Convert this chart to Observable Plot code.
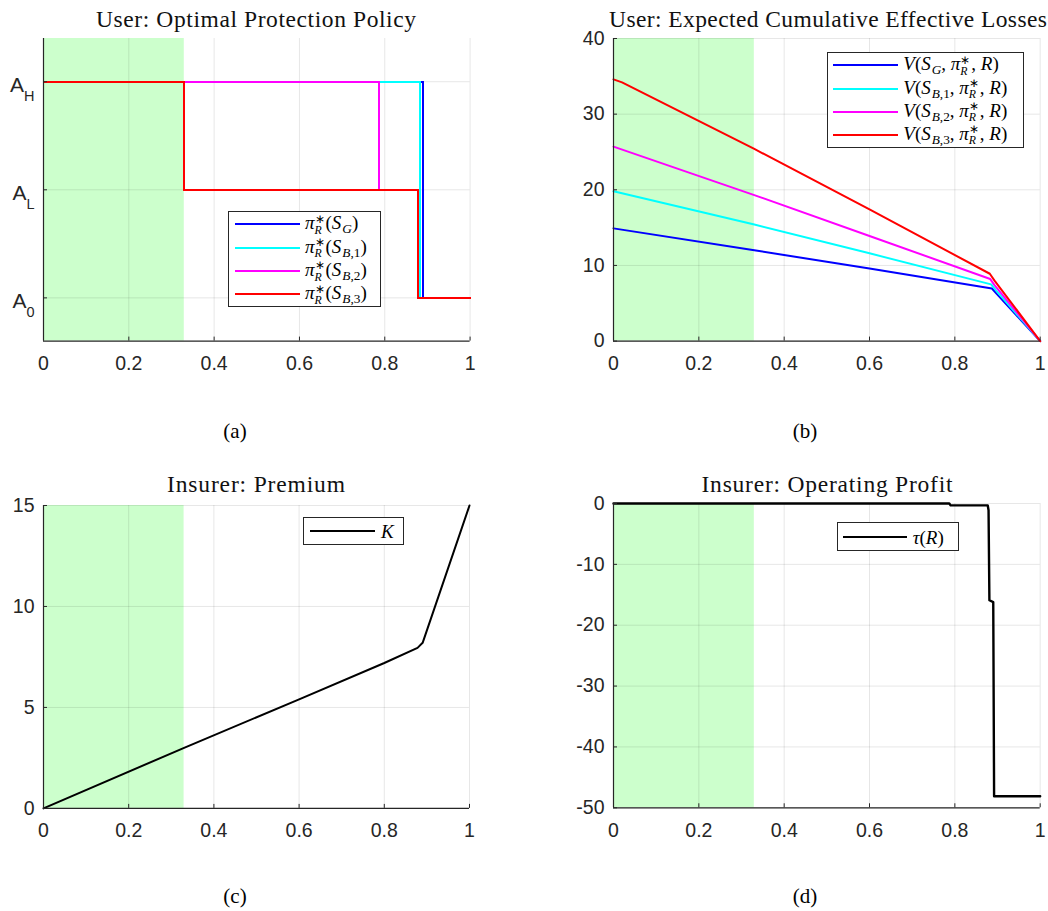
<!DOCTYPE html>
<html>
<head>
<meta charset="utf-8">
<script src="https://cdn.jsdelivr.net/npm/d3@7"></script>
<script src="https://cdn.jsdelivr.net/npm/@observablehq/plot@0.6"></script>
<style>
  html,body{margin:0;padding:0;background:#fff;}
  #root{position:relative;width:1048px;height:911px;overflow:hidden;background:#fff;}
  .panel{position:absolute;}
  .panel svg{display:block;overflow:visible;}
  #overlay{position:absolute;left:0;top:0;pointer-events:none;}
  .legend{position:absolute;box-sizing:border-box;border:1px solid #262626;background:#fff;}
  .legend .sw{position:absolute;height:2px;margin-top:-1px;}
  .legend .lt{position:absolute;transform:translateY(-50%);font-family:"Liberation Serif","Times New Roman",serif;font-size:19px;line-height:1;white-space:nowrap;color:#000;}
  .ss{display:inline-block;vertical-align:-0.4em;font-size:0.62em;line-height:0.95;margin-right:1px;}
  .ss span{display:block;}
  .sb{font-size:0.7em;vertical-align:-0.3em;line-height:0;margin-left:1px;}
</style>
</head>
<body>
<div id="root"></div>
<script>
// ---------------- DATA ----------------
const xTicks = [0, 0.2, 0.4, 0.6, 0.8, 1];
const safeRegion = [0, 0.33];           // green shaded region of R

// (a) optimal protection policy: breakpoints (step-after), levels 0=A0, 1=AL, 2=AH
const policyLevelTicks = [0, 1, 2];
const policyLevelSubs = ["0", "L", "H"];
const policySG_R  = [0, 0.889, 1];
const policySG_A  = [2, 0, 0];
const policySB1_R = [0, 0.882, 1];
const policySB1_A = [2, 0, 0];
const policySB2_R = [0, 0.787, 0.877, 1];
const policySB2_A = [2, 1, 0, 0];
const policySB3_R = [0, 0.33, 0.877, 1];
const policySB3_A = [2, 1, 0, 0];

// (b) expected cumulative effective losses
const lossTicks = [0, 10, 20, 30, 40];
const lossSG_R  = [0, 0.33, 0.6, 0.887, 0.897, 1];
const lossSG_V  = [14.9, 12.0, 9.6, 6.95, 6.3, 0];
const lossSB1_R = [0, 0.33, 0.6, 0.885, 0.895, 1];
const lossSB1_V = [19.8, 15.4, 11.6, 7.5, 6.8, 0];
const lossSB2_R = [0, 0.33, 0.6, 0.883, 0.893, 1];
const lossSB2_V = [25.7, 19.3, 13.9, 8.2, 7.4, 0];
const lossSB3_R = [0, 0.02, 0.33, 0.6, 0.882, 0.893, 1];
const lossSB3_V = [34.6, 34.2, 25.4, 17.4, 8.9, 8.0, 0];

// (c) insurer premium K
const premiumTicks = [0, 5, 10, 15];
const premiumR = [0, 0.33, 0.6, 0.8, 0.878, 0.89, 1];
const premiumK = [0, 3.0, 5.4, 7.2, 7.95, 8.2, 15];

// (d) insurer operating profit tau(R)
const profitTicks = [-50, -40, -30, -20, -10, 0];
const profitR = [0, 0.787, 0.79, 0.877, 0.879, 0.881, 0.89, 0.892, 1];
const profitT = [0, 0, -0.3, -0.3, -1.1, -15.9, -16.2, -48.1, -48.1];

const seriesColors = ["#0000ff", "#00ffff", "#ff00ff", "#ff0000"];

// ---------------- HELPERS ----------------
const zip = (xs, ys) => xs.map((x, i) => ({r: x, v: ys[i]}));
const xFmt = d => String(+(+d).toFixed(1));
const M = {left: 60, right: 8, top: 8, bottom: 40};
const root = document.getElementById("root");

function panel({frame, yDomain, yTicks, yFormat, lines, curve, crisp}) {
  const [fx, fy, fw, fh] = frame;
  const marks = [
    Plot.rect([safeRegion], {x1: d => d[0], x2: d => d[1], fill: "#ccffcc"}),
    Plot.gridX(xTicks, {stroke: "#000", strokeOpacity: 0.1}),
    Plot.gridY(yTicks, {stroke: "#000", strokeOpacity: 0.1}),
    ...lines.map(l => Plot.line(l.data, {
      x: "r", y: "v", stroke: l.color, strokeWidth: l.width || 2,
      curve: curve || "linear",
      shapeRendering: crisp ? "crispEdges" : undefined
    })),
    Plot.ruleX([0], {stroke: "#262626", strokeWidth: 1.2}),
    Plot.ruleY([yDomain[0]], {stroke: "#262626", strokeWidth: 1.2}),
    Plot.axisX(xTicks, {tickSize: 0, tickPadding: 15, tickFormat: xFmt, label: null}),
    Plot.axisX(xTicks, {tickSize: -4, tickFormat: () => "", label: null, stroke: "#262626"}),
    Plot.axisY(yTicks, {tickSize: 0, tickPadding: 9, tickFormat: yFormat, label: null}),
    Plot.axisY(yTicks, {tickSize: -4, tickFormat: () => "", label: null, stroke: "#262626"})
  ];
  const svg = Plot.plot({
    width: fw + M.left + M.right,
    height: fh + M.top + M.bottom,
    marginLeft: M.left, marginRight: M.right, marginTop: M.top, marginBottom: M.bottom,
    x: {domain: [0, 1]},
    y: {domain: yDomain},
    style: {fontFamily: '"Liberation Sans", Arial, sans-serif', fontSize: "19.5px", color: "#262626", background: "transparent", overflow: "visible"},
    marks
  });
  const div = document.createElement("div");
  div.className = "panel";
  div.style.left = (fx - M.left) + "px";
  div.style.top = (fy - M.top) + "px";
  div.appendChild(svg);
  root.appendChild(div);
  return svg;
}

// (a)
const svgA = panel({
  frame: [42.7, 37.7, 426.6, 302.6],
  yDomain: [-0.4, 2.4],
  yTicks: policyLevelTicks,
  yFormat: d => "A" + policyLevelSubs[d],
  curve: "step-after",
  crisp: true,
  lines: [
    {data: zip(policySG_R, policySG_A), color: seriesColors[0]},
    {data: zip(policySB1_R, policySB1_A), color: seriesColors[1]},
    {data: zip(policySB2_R, policySB2_A), color: seriesColors[2]},
    {data: zip(policySB3_R, policySB3_A), color: seriesColors[3]}
  ]
});
// subscripts on A tick labels
svgA.querySelectorAll('g[aria-label="y-axis tick label"] text').forEach(t => {
  const s = t.textContent;
  if (!s) return;
  t.textContent = s[0];
  t.style.fontSize = "21px";
  t.setAttribute("dy", "0.18em");
  const ts = document.createElementNS("http://www.w3.org/2000/svg", "tspan");
  ts.textContent = s.slice(1);
  ts.setAttribute("dy", "9");
  ts.style.fontSize = "14.5px";
  t.appendChild(ts);
});

// (b)
panel({
  frame: [613.3, 37.7, 426.7, 302.6],
  yDomain: [0, 40],
  yTicks: lossTicks,
  yFormat: d => String(d),
  lines: [
    {data: zip(lossSG_R, lossSG_V), color: seriesColors[0]},
    {data: zip(lossSB1_R, lossSB1_V), color: seriesColors[1]},
    {data: zip(lossSB2_R, lossSB2_V), color: seriesColors[2]},
    {data: zip(lossSB3_R, lossSB3_V), color: seriesColors[3]}
  ]
});

// (c)
panel({
  frame: [43.3, 504.8, 426, 302.9],
  yDomain: [0, 15],
  yTicks: premiumTicks,
  yFormat: d => String(d),
  lines: [{data: zip(premiumR, premiumK), color: "#000", width: 2}]
});

// (d)
panel({
  frame: [613.3, 503.4, 426.7, 304.3],
  yDomain: [-50, 0],
  yTicks: profitTicks,
  yFormat: d => String(d),
  lines: [{data: zip(profitR, profitT), color: "#000", width: 2.4}]
});

// ---------------- TITLES & CAPTIONS ----------------
const overlay = d3.select(root).append("svg").attr("id", "overlay").attr("width", 1048).attr("height", 911);
const titles = [
  {t: "User: Optimal Protection Policy", x: 256, y: 26.5, w: 320},
  {t: "User: Expected Cumulative Effective Losses", x: 828, y: 26.5, w: 438},
  {t: "Insurer: Premium", x: 256, y: 492, w: 178},
  {t: "Insurer: Operating Profit", x: 827, y: 492, w: 251}
];
overlay.selectAll("text.title").data(titles).join("text")
  .attr("class", "title")
  .attr("x", d => d.x).attr("y", d => d.y)
  .attr("text-anchor", "middle")
  .attr("textLength", d => d.w).attr("lengthAdjust", "spacing")
  .style("font-family", '"Liberation Serif","Times New Roman",serif')
  .style("font-size", "23.5px").style("fill", "#111")
  .text(d => d.t);
const captions = [
  {t: "(a)", x: 235, y: 438}, {t: "(b)", x: 805, y: 438},
  {t: "(c)", x: 235, y: 903}, {t: "(d)", x: 805, y: 903}
];
overlay.selectAll("text.cap").data(captions).join("text")
  .attr("class", "cap")
  .attr("x", d => d.x).attr("y", d => d.y)
  .attr("text-anchor", "middle")
  .style("font-family", '"Liberation Serif","Times New Roman",serif')
  .style("font-size", "21px").style("fill", "#000")
  .text(d => d.t);

// ---------------- LEGENDS ----------------
const piR = '<i>π</i><span class="ss"><span>∗</span><span><i>R</i></span></span>';
const subG = '<span class="sb"><i>G</i></span>';
const subB = k => '<span class="sb"><i>B</i>,' + k + '</span>';
const legendA = [
  piR + '(<i>S</i>' + subG + ')',
  piR + '(<i>S</i>' + subB(1) + ')',
  piR + '(<i>S</i>' + subB(2) + ')',
  piR + '(<i>S</i>' + subB(3) + ')'
];
const legendB = [
  '<i>V</i>(<i>S</i>' + subG + ', ' + piR + ', <i>R</i>)',
  '<i>V</i>(<i>S</i>' + subB(1) + ', ' + piR + ', <i>R</i>)',
  '<i>V</i>(<i>S</i>' + subB(2) + ', ' + piR + ', <i>R</i>)',
  '<i>V</i>(<i>S</i>' + subB(3) + ', ' + piR + ', <i>R</i>)'
];

function legend({left, top, width, height, rows, colors, y0, dy, sw0, sw1, tx}) {
  const box = document.createElement("div");
  box.className = "legend";
  Object.assign(box.style, {left: left + "px", top: top + "px", width: width + "px", height: height + "px"});
  rows.forEach((html, i) => {
    const y = y0 + i * dy;
    const sw = document.createElement("div");
    sw.className = "sw";
    Object.assign(sw.style, {left: sw0 + "px", width: (sw1 - sw0) + "px", top: y + "px", background: colors[i]});
    box.appendChild(sw);
    const lt = document.createElement("div");
    lt.className = "lt";
    lt.style.left = tx + "px";
    lt.style.top = y + "px";
    lt.innerHTML = html;
    box.appendChild(lt);
  });
  root.appendChild(box);
}
legend({left: 228, top: 210.7, width: 153, height: 96.3, rows: legendA, colors: seriesColors, y0: 12.8, dy: 23.2, sw0: 6, sw1: 71, tx: 76});
legend({left: 826.7, top: 51.7, width: 197.6, height: 96, rows: legendB, colors: seriesColors, y0: 12.8, dy: 23.1, sw0: 5.6, sw1: 70.6, tx: 75.6});
legend({left: 303, top: 516.7, width: 101, height: 28.3, rows: ['<i>K</i>'], colors: ["#000"], y0: 13.8, dy: 0, sw0: 6, sw1: 71, tx: 77});
legend({left: 836.7, top: 522.3, width: 122.3, height: 28.4, rows: ['<i>τ</i>(<i>R</i>)'], colors: ["#000"], y0: 13.7, dy: 0, sw0: 5.6, sw1: 69, tx: 75});
</script>
</body>
</html>
